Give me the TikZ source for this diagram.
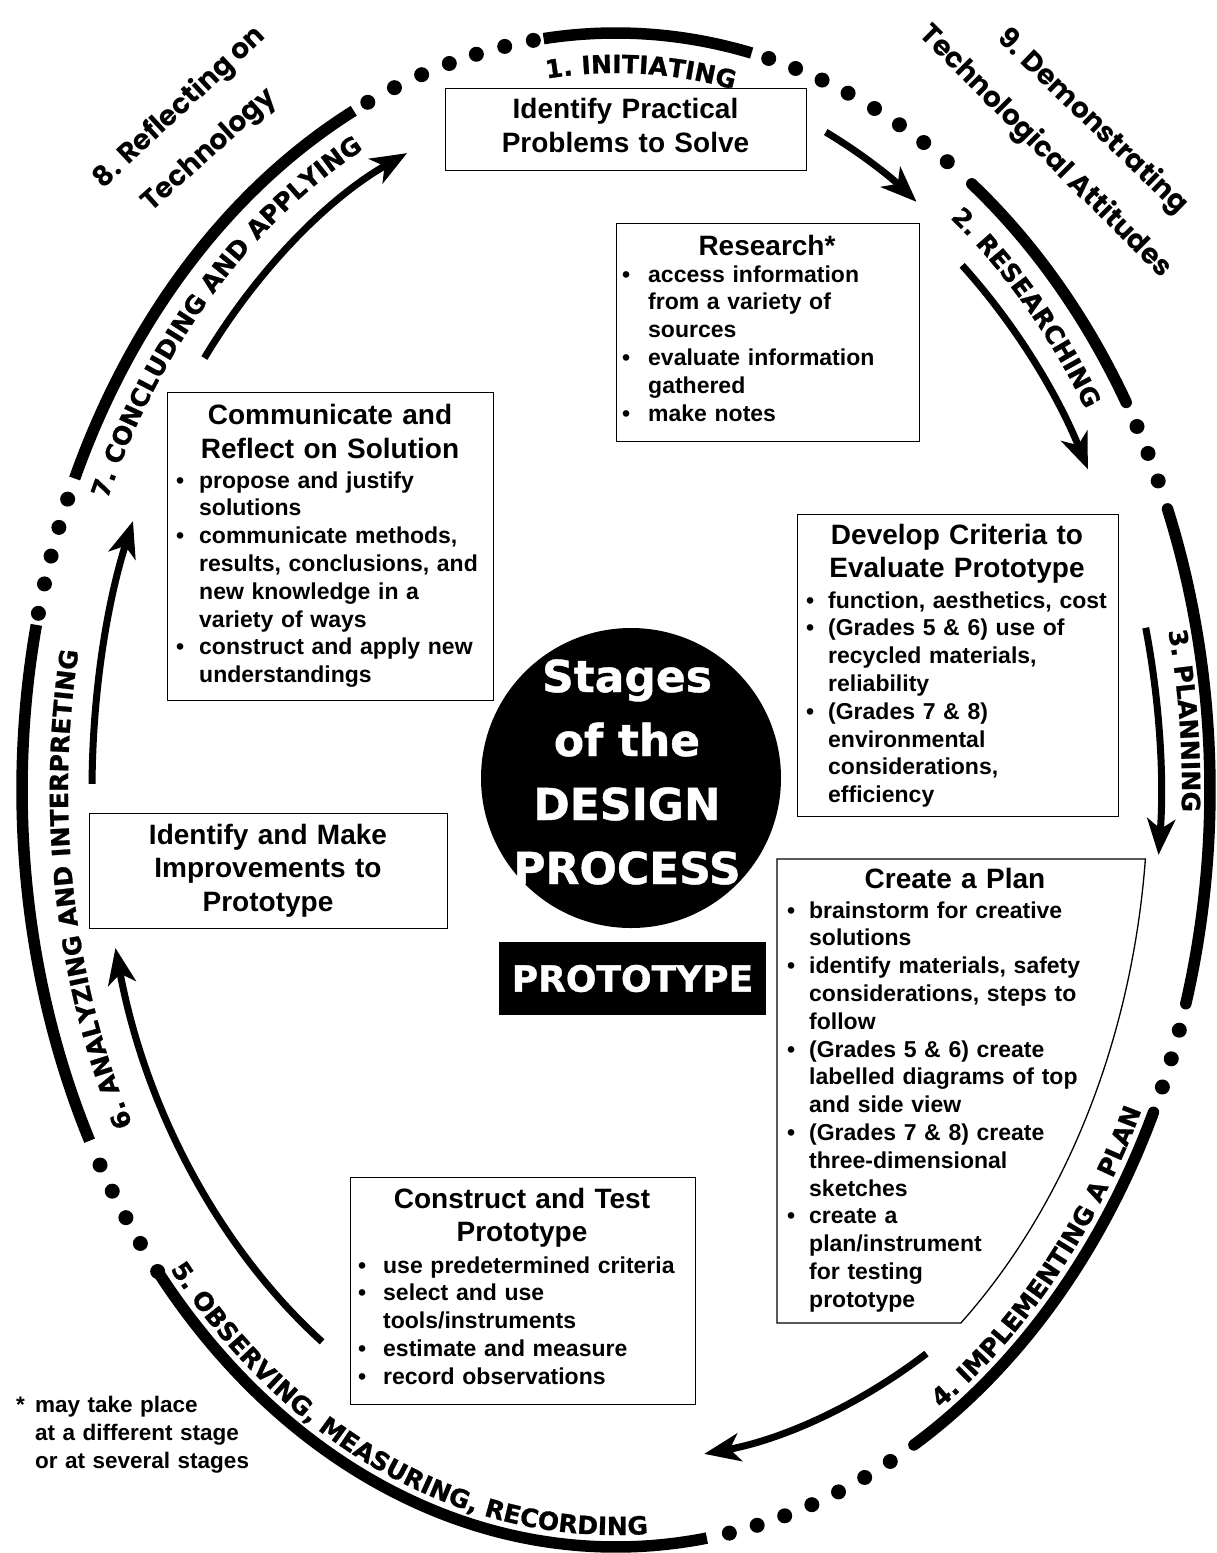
\documentclass[tikz,border=0pt]{standalone}
\usepackage{fontspec}
\setmainfont{Liberation Sans}
\newfontfamily\ringfont{DejaVu Sans}[BoldFeatures={FakeBold=1}]
\newfontfamily\handfont{Poppins}
\usetikzlibrary{arrows.meta,decorations.text}
\newlength{\bw}
\newcommand{\bitm}{\makebox[\bw][l]{\textbullet}}
\newcommand{\citm}{\hspace*{\bw}}
\newcommand{\lblfont}{\ringfont\bfseries\fontsize{25}{25}\selectfont}
\begin{document}
\begin{tikzpicture}[x=1pt,y=-1pt,
  ringarc/.style={line width=11.5pt},
  flow/.style={line width=7pt,-{Stealth[length=36pt,width=28pt,inset=10pt]}},
  box/.style={draw,line width=1.3pt,inner sep=0pt},
  ttl/.style={font=\bfseries\fontsize{28}{34}\selectfont,align=center,inner sep=0pt},
  bdy/.style={font=\bfseries\fontsize{23}{27.8}\selectfont,align=left,inner sep=0pt},
  hand/.style={font=\handfont\bfseries\fontsize{28}{28}\selectfont,inner sep=0pt}]
\fill[white] (0,0) rectangle (1217,1553);
\useasboundingbox (0,0) rectangle (1217,1553);

% ---- outer ring: thick arcs
\foreach \s/\e in {97/76.8,-81.2/-140.2,-152.4/-192.6,-204.3/-243.8}
  \draw[ringarc] ({616+594*cos(\s)},{790-757*sin(\s)}) arc[start angle=\s,end angle=\e,x radius=594pt,y radius=757pt];
\foreach \s/\e in {53.2/30.8,21.8/-16.4,-25.2/-59.9}
  \draw[ringarc,line cap=round] ({616+594*cos(\s)},{790-757*sin(\s)}) arc[start angle=\s,end angle=\e,x radius=594pt,y radius=757pt];
% ---- outer ring: dots
\foreach \t in {75.1,72.4,69.7,67.0,64.2,61.5,58.8,56.1,
  28.7,26.4,24.1,-18.5,-20.8,-23.1,
  -62.5,-65.25,-68.0,-70.75,-73.5,-76.25,-79.0,
  -140.5,-143.2,-145.6,-148.0,-150.3,
  -193.5,-195.8,-198.0,-200.3,-202.6,
  114.7,111.9,109.1,106.3,103.6,100.8,98.0}
  \fill ({616+594*cos(\t)},{790-757*sin(\t)}) circle[radius=7.5pt];

% ---- ring labels
\path[decorate,decoration={text along path,text align=center,text={|\lblfont|1. INITIATING}}]
  ({616+554*cos(102)},{790-717*sin(102)}) arc[start angle=102,end angle=73,x radius=554pt,y radius=717pt];
\path[decorate,decoration={text along path,text align=center,text={|\lblfont|2. RESEARCHING}}]
  ({616+554*cos(62)},{790-717*sin(62)}) arc[start angle=62,end angle=24,x radius=554pt,y radius=717pt];
\path[decorate,decoration={text along path,text align=center,text={|\lblfont|3. PLANNING}}]
  ({616+566*cos(20)},{790-729*sin(20)}) arc[start angle=20,end angle=-9,x radius=566pt,y radius=729pt];
\path[decorate,decoration={text along path,text align=center,text={|\lblfont|4. IMPLEMENTING A PLAN}}]
  ({616+582*cos(-72)},{790-745*sin(-72)}) arc[start angle=-72,end angle=-12,x radius=582pt,y radius=745pt];
\path[decorate,decoration={text along path,text align=center,text={|\lblfont|5. OBSERVING, MEASURING,  RECORDING}}]
  ({616+582*cos(-150)},{790-745*sin(-150)}) arc[start angle=-150,end angle=-75,x radius=582pt,y radius=745pt];
\path[decorate,decoration={text along path,text align=center,text={|\lblfont|6. ANALYZING AND INTERPRETING}}]
  ({616+548*cos(-131)},{790-711*sin(-131)}) arc[start angle=-131,end angle=-211,x radius=548pt,y radius=711pt];
\path[decorate,decoration={text along path,text align=center,text={|\lblfont|7. CONCLUDING AND APPLYING}}]
  ({616+556*cos(162)},{790-719*sin(162)}) arc[start angle=162,end angle=110,x radius=556pt,y radius=719pt];

% ---- outside hand-written labels
\node[hand,rotate=43] (r8a) at (180,108) {8. Reflecting on};
\node[hand,rotate=42] (r8b) at (210,151) {Technology};
\node[hand,rotate=-44] (r9a) at (1092,122) {9. Demonstrating};
\node[hand,rotate=-45] (r9b) at (1045,152) {Technological Attitudes};

% ---- inner arrows
\coordinate (a1s) at ({616+524*cos(66.4)},{790-718*sin(66.4)});
\draw[flow] (a1s) arc[start angle=66.4,end angle=55.0,x radius=524pt,y radius=718pt];
\coordinate (a2s) at ({616+533*cos(49.5)},{790-690*sin(49.5)});
\draw[flow] (a2s) arc[start angle=49.5,end angle=27.7,x radius=533pt,y radius=690pt];
\coordinate (a3s) at ({616+545*cos(13.6)},{790-690*sin(13.6)});
\draw[flow] (a3s) arc[start angle=13.6,end angle=-5.4,x radius=545pt,y radius=690pt];
\coordinate (a4s) at ({616+570*cos(-57.0)},{790-672*sin(-57.0)});
\draw[flow] (a4s) arc[start angle=-57.0,end angle=-81.1,x radius=570pt,y radius=672pt];
\coordinate (a5s) at ({616+515*cos(-124.8)},{790-672*sin(-124.8)});
\draw[flow] (a5s) arc[start angle=-124.8,end angle=-166.4,x radius=515pt,y radius=672pt];
\coordinate (a6s) at ({616+524*cos(-180.5)},{790-694*sin(-180.5)});
\draw[flow] (a6s) arc[start angle=-180.5,end angle=-202.8,x radius=524pt,y radius=694pt];
\coordinate (a7s) at ({616+526*cos(-218.5)},{790-694*sin(-218.5)});
\draw[flow] (a7s) arc[start angle=-218.5,end angle=-246.6,x radius=526pt,y radius=694pt];

% ---- centre
\node[circle,fill=black,minimum size=300pt,inner sep=0pt] (stages) at (631,778) {};
\node[font=\ringfont\bfseries\fontsize{44}{64}\selectfont,text=white,align=center,text width=290pt,inner sep=0pt,anchor=base] (stagestxt) at (627,692) {Stages\\of the\\DESIGN\\PROCESS};
\node[fill=black,text=white,minimum width=267pt,minimum height=73pt,inner sep=0pt,font=\ringfont\bfseries\fontsize{36}{36}\selectfont] (proto) at (632.5,978.5) {PROTOTYPE};

% ---- boxes
\node[box,anchor=north west,minimum width=361pt,minimum height=82pt] (b1) at (445,88) {};
\node[ttl,text width=350pt,anchor=base] (b1t) at (625.5,118) {Identify Practical\\Problems to Solve};

\node[box,anchor=north west,minimum width=303pt,minimum height=218pt] (res) at (616,223) {};
\node[ttl,text width=290pt,anchor=base] (rest) at (767,255) {Research*};
\node[bdy,anchor=base west,text width=295pt,execute at begin node={\setlength{\bw}{26pt}}] (resb) at (622,282)
 {\bitm access information\\ \citm from a variety of\\ \citm sources\\ \bitm evaluate information\\ \citm gathered\\ \bitm make notes};

\node[box,anchor=north west,minimum width=326pt,minimum height=308pt] (com) at (167,392) {};
\node[ttl,text width=320pt,anchor=base] (comt) at (330,424) {Communicate and\\Reflect on Solution};
\node[bdy,anchor=base west,text width=315pt,execute at begin node={\setlength{\bw}{23pt}}] (comb) at (176,488)
 {\bitm propose and justify\\ \citm solutions\\ \bitm communicate methods,\\ \citm results, conclusions, and\\ \citm new knowledge in a\\ \citm variety of ways\\ \bitm construct and apply new\\ \citm understandings};

\node[box,anchor=north west,minimum width=358pt,minimum height=115pt] (imp) at (89,813) {};
\node[ttl,text width=350pt,anchor=base,font=\bfseries\fontsize{28}{33.5}\selectfont] (impt) at (268,844) {Identify and Make\\Improvements to\\Prototype};

\node[box,anchor=north west,minimum width=321pt,minimum height=302pt] (dev) at (797,514) {};
\node[ttl,text width=315pt,anchor=base,font=\bfseries\fontsize{28}{33}\selectfont] (devt) at (957,544) {Develop Criteria to\\Evaluate Prototype};
\node[bdy,anchor=base west,text width=310pt,execute at begin node={\setlength{\bw}{22pt}}] (devb) at (806,608)
 {\bitm function, aesthetics, cost\\ \bitm (Grades 5 \& 6) use of\\ \citm recycled materials,\\ \citm reliability\\ \bitm (Grades 7 \& 8)\\ \citm environmental\\ \citm considerations,\\ \citm efficiency};

\node[box,anchor=north west,minimum width=345pt,minimum height=227pt] (con) at (350,1177) {};
\node[ttl,text width=340pt,anchor=base,font=\bfseries\fontsize{28}{33}\selectfont] (cont) at (522,1208) {Construct and Test\\Prototype};
\node[bdy,anchor=base west,text width=335pt,execute at begin node={\setlength{\bw}{25pt}}] (conb) at (358,1273)
 {\bitm use predetermined criteria\\ \bitm select and use\\ \citm tools/instruments\\ \bitm estimate and measure\\ \bitm record observations};

\draw[line width=1.3pt] (777,859) -- ({616+532*cos(-5.66)},{790-700*sin(-5.66)})
  arc[start angle=-5.66,end angle=-49.59,x radius=532pt,y radius=700pt] -- (777,1323) -- cycle;
\node[ttl,text width=340pt,anchor=base] (plant) at (955,888) {Create a Plan};
\node[bdy,anchor=base west,text width=340pt,execute at begin node={\setlength{\bw}{22pt}}] (planb) at (787,918)
 {\bitm brainstorm for creative\\ \citm solutions\\ \bitm identify materials, safety\\ \citm considerations, steps to\\ \citm follow\\ \bitm (Grades 5 \& 6) create\\ \citm labelled diagrams of top\\ \citm and side view\\ \bitm (Grades 7 \& 8) create\\ \citm three-dimensional\\ \citm sketches\\ \bitm create a\\ \citm plan/instrument\\ \citm for testing\\ \citm prototype};

% ---- footnote
\node[bdy,anchor=base west,text width=260pt,font=\bfseries\fontsize{22.5}{28}\selectfont] (note) at (16,1412)
 {\makebox[19pt][l]{*}may take place\\ \hspace*{19pt}at a different stage\\ \hspace*{19pt}or at several stages};
\end{tikzpicture}
\end{document}
